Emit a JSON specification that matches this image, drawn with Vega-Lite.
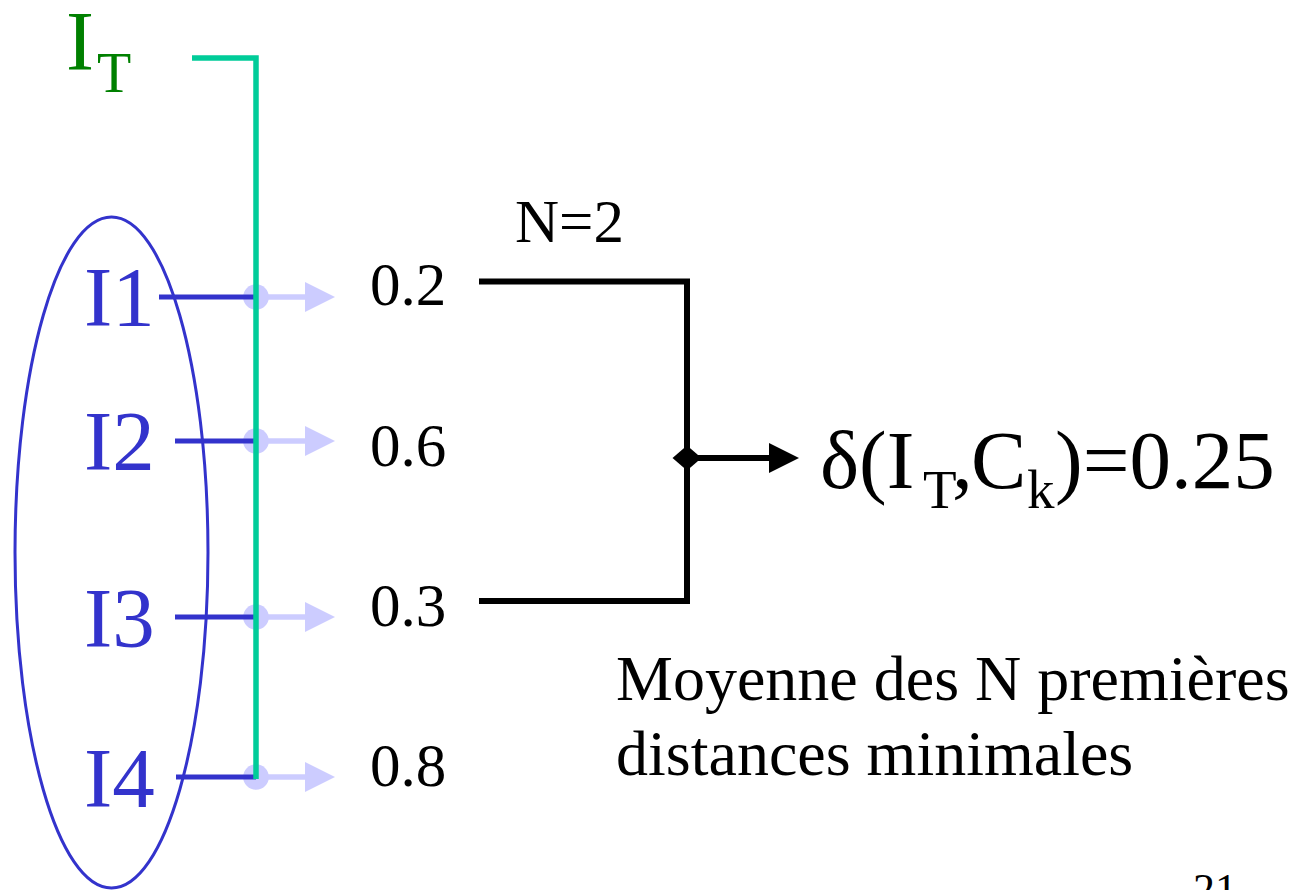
{
  "$schema": "https://vega.github.io/schema/vega-lite/v6.json",
  "width": 1307,
  "height": 890,
  "autosize": {"type": "none"},
  "padding": 0,
  "background": "white",
  "config": {"view": {"stroke": null}},
  "datasets": {
    "ellipse": [{"x": 111.5, "y": 552.5}],
    "lightShaft": [
      {"seg": "a1", "o": 1, "x": 256, "y": 297}, {"seg": "a1", "o": 2, "x": 307, "y": 297},
      {"seg": "a2", "o": 1, "x": 256, "y": 441}, {"seg": "a2", "o": 2, "x": 307, "y": 441},
      {"seg": "a3", "o": 1, "x": 256, "y": 617}, {"seg": "a3", "o": 2, "x": 307, "y": 617},
      {"seg": "a4", "o": 1, "x": 256, "y": 777}, {"seg": "a4", "o": 2, "x": 307, "y": 777}
    ],
    "lightDots": [{"x": 256, "y": 297}, {"x": 256, "y": 441}, {"x": 256, "y": 617}, {"x": 256, "y": 777}],
    "lightHeads": [{"x": 320, "y": 297}, {"x": 320, "y": 441}, {"x": 320, "y": 617}, {"x": 320, "y": 777}],
    "blueLines": [
      {"seg": "I1", "o": 1, "x": 159, "y": 297}, {"seg": "I1", "o": 2, "x": 256, "y": 297},
      {"seg": "I2", "o": 1, "x": 175, "y": 441}, {"seg": "I2", "o": 2, "x": 256, "y": 441},
      {"seg": "I3", "o": 1, "x": 175, "y": 617}, {"seg": "I3", "o": 2, "x": 256, "y": 617},
      {"seg": "I4", "o": 1, "x": 176, "y": 777}, {"seg": "I4", "o": 2, "x": 256, "y": 777}
    ],
    "greenLine": [
      {"seg": "IT", "o": 1, "x": 192, "y": 58}, {"seg": "IT", "o": 2, "x": 256, "y": 58}, {"seg": "IT", "o": 3, "x": 256, "y": 779}
    ],
    "blackLines": [
      {"seg": "br", "o": 1, "x": 479, "y": 281.5}, {"seg": "br", "o": 2, "x": 687, "y": 281.5},
      {"seg": "br", "o": 3, "x": 687, "y": 601}, {"seg": "br", "o": 4, "x": 479, "y": 601},
      {"seg": "ar", "o": 1, "x": 687, "y": 458}, {"seg": "ar", "o": 2, "x": 772, "y": 458}
    ],
    "diamond": [{"x": 687, "y": 458}],
    "blackHead": [{"x": 784, "y": 458}],
    "greenText": [{"x": 66, "y": 70, "t": "I"}],
    "greenSub": [{"x": 97, "y": 92, "t": "T"}],
    "blueText": [
      {"x": 84, "y": 326, "t": "I1"}, {"x": 84, "y": 470, "t": "I2"},
      {"x": 84, "y": 647, "t": "I3"}, {"x": 84, "y": 807, "t": "I4"}
    ],
    "values": [
      {"x": 370, "y": 305, "t": "0.2"}, {"x": 370, "y": 466, "t": "0.6"},
      {"x": 370, "y": 626, "t": "0.3"}, {"x": 370, "y": 786, "t": "0.8"},
      {"x": 515, "y": 242, "t": "N=2"}
    ],
    "deltaMain": [
      {"x": 820, "y": 488, "t": "δ(I"}, {"x": 952, "y": 488, "t": ","},
      {"x": 971, "y": 488, "t": "C"}, {"x": 1055, "y": 488, "t": ")=0.25"}
    ],
    "deltaSub": [{"x": 923, "y": 508, "t": "T"}, {"x": 1027, "y": 508, "t": "k"}],
    "caption": [
      {"x": 616, "y": 700, "t": "Moyenne des N premières"},
      {"x": 616, "y": 775, "t": "distances minimales"}
    ],
    "page": [{"x": 1193, "y": 904, "t": "21"}]
  },
  "encoding": {
    "x": {"field": "x", "type": "quantitative", "scale": {"domain": [0, 1307], "nice": false, "zero": false}, "axis": null},
    "y": {"field": "y", "type": "quantitative", "scale": {"domain": [890, 0], "nice": false, "zero": false}, "axis": null}
  },
  "layer": [
    {
      "data": {"name": "ellipse"},
      "mark": {"type": "point", "shape": "M 0 -1 A 0.2876 1 0 1 1 0 1 A 0.2876 1 0 1 1 0 -1 Z", "size": 450241, "filled": false, "stroke": "#3333CC", "strokeWidth": 3, "opacity": 1}
    },
    {
      "data": {"name": "lightShaft"},
      "mark": {"type": "line", "color": "#CCCCFF", "strokeWidth": 5.5, "strokeCap": "butt"},
      "encoding": {"detail": {"field": "seg"}, "order": {"field": "o"}}
    },
    {
      "data": {"name": "lightDots"},
      "mark": {"type": "point", "shape": "circle", "size": 660, "filled": true, "color": "#CCCCFF", "opacity": 1, "strokeWidth": 0}
    },
    {
      "data": {"name": "lightHeads"},
      "mark": {"type": "point", "shape": "M -1 -1 L 1 0 L -1 1 Z", "size": 900, "filled": true, "color": "#CCCCFF", "opacity": 1, "strokeWidth": 0}
    },
    {
      "data": {"name": "blueLines"},
      "mark": {"type": "line", "color": "#3333CC", "strokeWidth": 5, "strokeCap": "butt"},
      "encoding": {"detail": {"field": "seg"}, "order": {"field": "o"}}
    },
    {
      "data": {"name": "greenLine"},
      "mark": {"type": "line", "color": "#00CC99", "strokeWidth": 5.5, "strokeCap": "butt", "strokeJoin": "miter"},
      "encoding": {"detail": {"field": "seg"}, "order": {"field": "o"}}
    },
    {
      "data": {"name": "blackLines"},
      "mark": {"type": "line", "color": "#000000", "strokeWidth": 6, "strokeCap": "butt", "strokeJoin": "miter"},
      "encoding": {"detail": {"field": "seg"}, "order": {"field": "o"}}
    },
    {
      "data": {"name": "diamond"},
      "mark": {"type": "point", "shape": "M -1 0 L 0 -0.86 L 1 0 L 0 0.86 Z", "size": 841, "filled": true, "color": "#000000", "opacity": 1, "strokeWidth": 0}
    },
    {
      "data": {"name": "blackHead"},
      "mark": {"type": "point", "shape": "M -1 -1 L 1 0 L -1 1 Z", "size": 900, "filled": true, "color": "#000000", "opacity": 1, "strokeWidth": 0}
    },
    {
      "data": {"name": "greenText"},
      "mark": {"type": "text", "font": "Liberation Serif", "fontSize": 84, "color": "#008000", "align": "left", "baseline": "alphabetic"},
      "encoding": {"text": {"field": "t"}}
    },
    {
      "data": {"name": "greenSub"},
      "mark": {"type": "text", "font": "Liberation Serif", "fontSize": 56, "color": "#008000", "align": "left", "baseline": "alphabetic"},
      "encoding": {"text": {"field": "t"}}
    },
    {
      "data": {"name": "blueText"},
      "mark": {"type": "text", "font": "Liberation Serif", "fontSize": 85, "color": "#3333CC", "align": "left", "baseline": "alphabetic"},
      "encoding": {"text": {"field": "t"}}
    },
    {
      "data": {"name": "values"},
      "mark": {"type": "text", "font": "Liberation Serif", "fontSize": 61, "color": "#000000", "align": "left", "baseline": "alphabetic"},
      "encoding": {"text": {"field": "t"}}
    },
    {
      "data": {"name": "deltaMain"},
      "mark": {"type": "text", "font": "Liberation Serif", "fontSize": 83, "color": "#000000", "align": "left", "baseline": "alphabetic"},
      "encoding": {"text": {"field": "t"}}
    },
    {
      "data": {"name": "deltaSub"},
      "mark": {"type": "text", "font": "Liberation Serif", "fontSize": 55, "color": "#000000", "align": "left", "baseline": "alphabetic"},
      "encoding": {"text": {"field": "t"}}
    },
    {
      "data": {"name": "caption"},
      "mark": {"type": "text", "font": "Liberation Serif", "fontSize": 64, "color": "#000000", "align": "left", "baseline": "alphabetic"},
      "encoding": {"text": {"field": "t"}}
    },
    {
      "data": {"name": "page"},
      "mark": {"type": "text", "font": "Liberation Serif", "fontSize": 44, "color": "#000000", "align": "left", "baseline": "alphabetic"},
      "encoding": {"text": {"field": "t"}}
    }
  ]
}
